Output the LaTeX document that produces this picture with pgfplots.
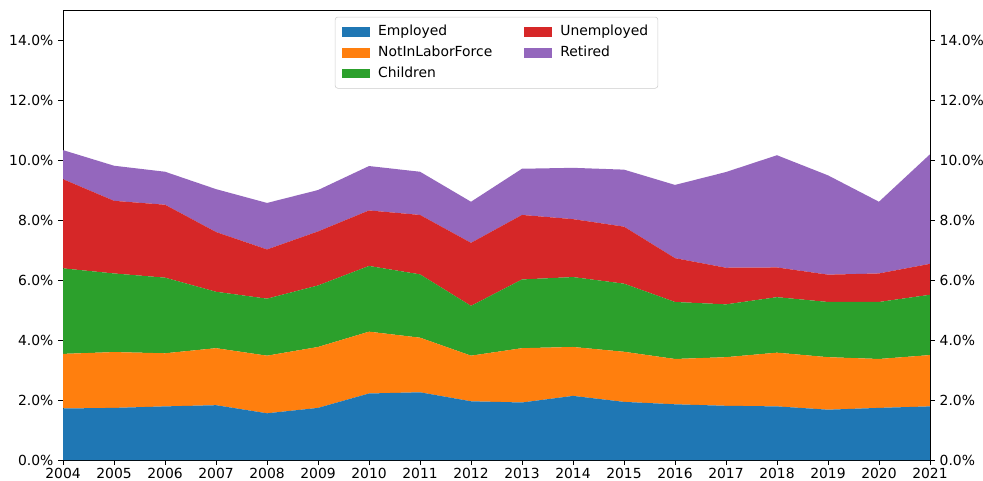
\documentclass[border=0pt]{standalone}
\usepackage{fontspec}
\setmainfont{DejaVu Sans}
\usepackage{pgfplots}
\usepackage{pgfplotstable}
\pgfplotsset{compat=1.18}

\definecolor{tabblue}{HTML}{1F77B4}
\definecolor{taborange}{HTML}{FF7F0E}
\definecolor{tabgreen}{HTML}{2CA02C}
\definecolor{tabred}{HTML}{D62728}
\definecolor{tabpurple}{HTML}{9467BD}

% share of each group, per year (percent)
\pgfplotstableread{
year emp   nilf  child unemp retired
2004 1.72  1.82  2.85  2.97  0.97
2005 1.74  1.86  2.62  2.42  1.17
2006 1.79  1.77  2.52  2.43  1.10
2007 1.83  1.90  1.88  1.99  1.43
2008 1.56  1.92  1.90  1.64  1.55
2009 1.74  2.03  2.05  1.80  1.38
2010 2.22  2.06  2.19  1.85  1.48
2011 2.26  1.82  2.11  1.98  1.44
2012 1.96  1.52  1.66  2.10  1.37
2013 1.92  1.81  2.29  2.15  1.54
2014 2.14  1.63  2.33  1.93  1.71
2015 1.94  1.67  2.27  1.90  1.90
2016 1.86  1.51  1.90  1.46  2.44
2017 1.81  1.62  1.76  1.22  3.19
2018 1.79  1.79  1.85  0.99  3.74
2019 1.68  1.75  1.84  0.91  3.31
2020 1.74  1.63  1.90  0.95  2.39
2021 1.79  1.71  2.01  1.03  3.65
}\shares

\pgfplotsset{
  base/.style={
    scale only axis, width=624pt, height=324pt,
    xmin=2004, xmax=2021, ymin=0, ymax=15,
    ytick={0,2,...,14},
    tick align=outside,
    major tick length=3.5pt,
    tick style={black, line width=0.6pt},
    axis line style={line width=0.6pt},
    /pgf/number format/assume math mode=true,
    yticklabel={\pgfmathprintnumber[fixed,fixed zerofill,precision=1]{\tick}\%},
    tick label style={font=\fontsize{10}{12}\selectfont},
  },
}

\begin{document}
\begin{tikzpicture}
\begin{axis}[
  base,
  name=main,
  xtick={2004,2005,...,2021},
  xticklabel style={/pgf/number format/1000 sep={}, yshift=1.5pt},
  xtick pos=bottom,
  ytick pos=both,
  stack plots=y,
  legend columns=2,
  legend style={at={(0.5,0.985)}, anchor=north, draw=black!20, rounded corners=2pt,
    fill=white, fill opacity=0.8, text opacity=1, draw opacity=1,
    inner xsep=5pt, inner ysep=4pt,
    font=\fontsize{10}{12}\selectfont, row sep=2pt,
    /tikz/every odd column/.append style={column sep=4pt},
    /tikz/every even column/.append style={column sep=21pt}},
  legend cell align=left,
  area legend,
  legend image code/.code={\fill[#1, sharp corners, fill opacity=1] (0pt,-3.5pt) rectangle (20pt,3.5pt);},
]
\addplot[fill=tabblue, draw=none, forget plot] table[x=year,y=emp] {\shares} \closedcycle;
\addplot[fill=taborange, draw=none, forget plot] table[x=year,y=nilf] {\shares} \closedcycle;
\addplot[fill=tabgreen, draw=none, forget plot] table[x=year,y=child] {\shares} \closedcycle;
\addplot[fill=tabred, draw=none, forget plot] table[x=year,y=unemp] {\shares} \closedcycle;
\addplot[fill=tabpurple, draw=none, forget plot] table[x=year,y=retired] {\shares} \closedcycle;

% legend filled column by column, as in the original
\addlegendimage{fill=tabblue, draw=none}
\addlegendentry{Employed}
\addlegendimage{fill=tabred, draw=none}
\addlegendentry{Unemployed}
\addlegendimage{fill=taborange, draw=none}
\addlegendentry{NotInLaborForce}
\addlegendimage{fill=tabpurple, draw=none}
\addlegendentry{Retired}
\addlegendimage{fill=tabgreen, draw=none}
\addlegendentry{Children}
\end{axis}

\begin{axis}[
  base,
  hide x axis,
  axis y line*=right,
]
\end{axis}

% page margins as in the original figure
\pgfresetboundingbox
\useasboundingbox ([xshift=-45.4pt, yshift=-14.5pt]main.south west)
  rectangle ([xshift=38.2pt, yshift=7.2pt]main.north east);
\end{tikzpicture}
\end{document}
